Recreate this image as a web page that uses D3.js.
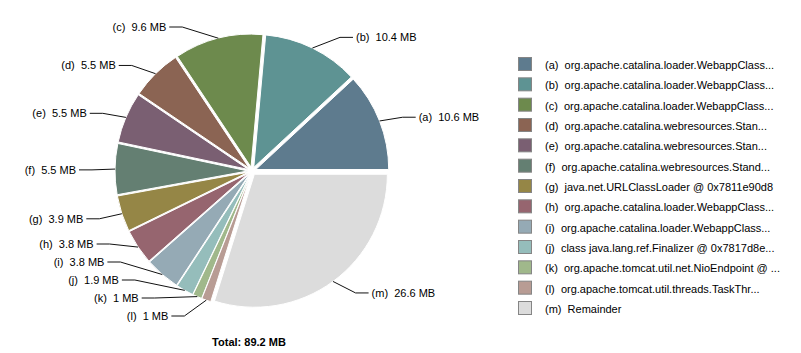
<!DOCTYPE html>
<html>
<head>
<meta charset="utf-8">
<script src="https://cdn.jsdelivr.net/npm/d3@7"></script>
<style>
  body { margin: 0; background: #fff; }
  text { font-family: "Liberation Sans", Arial, sans-serif; }
</style>
</head>
<body>
<svg id="chart" width="801" height="353"></svg>
<script>

var keys   = ["a", "b", "c", "d", "e", "f", "g", "h", "i", "j", "k", "l", "m"];
var sizes  = [10.6, 10.4, 9.6, 5.5, 5.5, 5.5, 3.9, 3.8, 3.8, 1.9, 1, 1, 26.6];
var names  = ["org.apache.catalina.loader.WebappClass...",
              "org.apache.catalina.loader.WebappClass...",
              "org.apache.catalina.loader.WebappClass...",
              "org.apache.catalina.webresources.Stan...",
              "org.apache.catalina.webresources.Stan...",
              "org.apache.catalina.webresources.Stand...",
              "java.net.URLClassLoader @ 0x7811e90d8",
              "org.apache.catalina.loader.WebappClass...",
              "org.apache.catalina.loader.WebappClass...",
              "class java.lang.ref.Finalizer @ 0x7817d8e...",
              "org.apache.tomcat.util.net.NioEndpoint @ ...",
              "org.apache.tomcat.util.threads.TaskThr...",
              "Remainder"];
var colors = ["#5e7b8e", "#5e9393", "#6d8a4d", "#8b6453", "#7a5f72", "#647f72",
              "#958646", "#96656f", "#95aab5", "#95bdbb", "#a0b88b", "#b89c94", "#dcdcdc"];
var total_label = "Total: 89.2 MB";

var svg = d3.select("#chart");

var cx = 252, cy = 171, radius = 133, explode = 4;
var label_r = 150, elbow_r = 160, min_gap = 18, top_y = 27, bottom_y = 316;

var color = d3.scaleOrdinal().domain(keys).range(colors);

// slices start at 3 o'clock and run counter-clockwise
var pie = d3.pie().sort(null)
    .startAngle(Math.PI / 2)
    .endAngle(Math.PI / 2 - 2 * Math.PI);

var arcs = pie(sizes).map(function(d, i) {
    d.key = keys[i];
    d.mid = (d.startAngle + d.endAngle) / 2;
    return d;
});

var arc = d3.arc().innerRadius(0).outerRadius(radius);

var g = svg.append("g").attr("transform", "translate(" + cx + "," + cy + ")");

g.selectAll("path.slice")
    .data(arcs)
    .enter().append("path")
    .attr("class", "slice")
    .attr("transform", function(d) {
        return "translate(" + (Math.sin(d.mid) * explode) + "," + (-Math.cos(d.mid) * explode) + ")";
    })
    .attr("d", arc)
    .attr("fill", function(d) { return color(d.key); })
    .attr("stroke", "#fff")
    .attr("stroke-width", 1);

// label layout: natural y, then push apart on each side
arcs.forEach(function(d) {
    d.right = Math.sin(d.mid) > 0;
    d.ly = -Math.cos(d.mid) * label_r + 1;
});

[true, false].forEach(function(side) {
    var list = arcs.filter(function(d) { return d.right === side; })
                   .sort(function(a, b) { return a.ly - b.ly; });
    for (var i = 0; i < list.length; i++) {
        list[i].ly = Math.max(list[i].ly, top_y - cy);
        if (i > 0) list[i].ly = Math.max(list[i].ly, list[i - 1].ly + min_gap);
    }
    for (var j = list.length - 1; j >= 0; j--) {
        list[j].ly = Math.min(list[j].ly, bottom_y - cy);
        if (j < list.length - 1) list[j].ly = Math.min(list[j].ly, list[j + 1].ly - min_gap);
    }
});

arcs.forEach(function(d) {
    var s = d.right ? 1 : -1;
    d.ax = Math.sin(d.mid) * (radius + explode);
    d.ay = -Math.cos(d.mid) * (radius + explode);
    d.ex = s * Math.sqrt(Math.max(0, elbow_r * elbow_r - d.ly * d.ly));
    d.hx = d.ex + s * 13;
    d.tx = d.hx + s * 3;
});

g.selectAll("polyline.leader")
    .data(arcs)
    .enter().append("polyline")
    .attr("class", "leader")
    .attr("points", function(d) {
        return [[d.ax, d.ay], [d.ex, d.ly], [d.hx, d.ly]].join(" ");
    })
    .attr("fill", "none")
    .attr("stroke", "#111")
    .attr("stroke-width", 1);

g.selectAll("text.lbl")
    .data(arcs)
    .enter().append("text")
    .attr("class", "lbl")
    .attr("x", function(d) { return d.tx; })
    .attr("y", function(d) { return d.ly; })
    .attr("dy", "0.35em")
    .attr("text-anchor", function(d) { return d.right ? "start" : "end"; })
    .attr("font-size", "11px")
    .attr("fill", "#000")
    .style("white-space", "pre")
    .text(function(d) { return "(" + d.key + ")  " + d.data + " MB"; });

svg.append("text")
    .attr("x", cx - 3)
    .attr("y", 346)
    .attr("text-anchor", "middle")
    .attr("font-size", "11px")
    .attr("font-weight", "bold")
    .text(total_label);

// legend
var ly = d3.scalePoint().domain(keys).range([64, 308]);

var leg = svg.append("g").attr("class", "legend");

leg.selectAll("rect")
    .data(keys)
    .enter().append("rect")
    .attr("x", 518.5)
    .attr("y", function(k) { return ly(k) - 6.5; })
    .attr("width", 13)
    .attr("height", 13)
    .attr("fill", function(k) { return color(k); })
    .attr("stroke", "#858585")
    .attr("stroke-width", 1);

leg.selectAll("text")
    .data(keys)
    .enter().append("text")
    .attr("x", 545)
    .attr("y", function(k) { return ly(k) + 1; })
    .attr("dy", "0.35em")
    .attr("font-size", "11px")
    .attr("fill", "#000")
    .style("white-space", "pre")
    .text(function(k, i) { return "(" + k + ")  " + names[i]; });

</script>
</body>
</html>
